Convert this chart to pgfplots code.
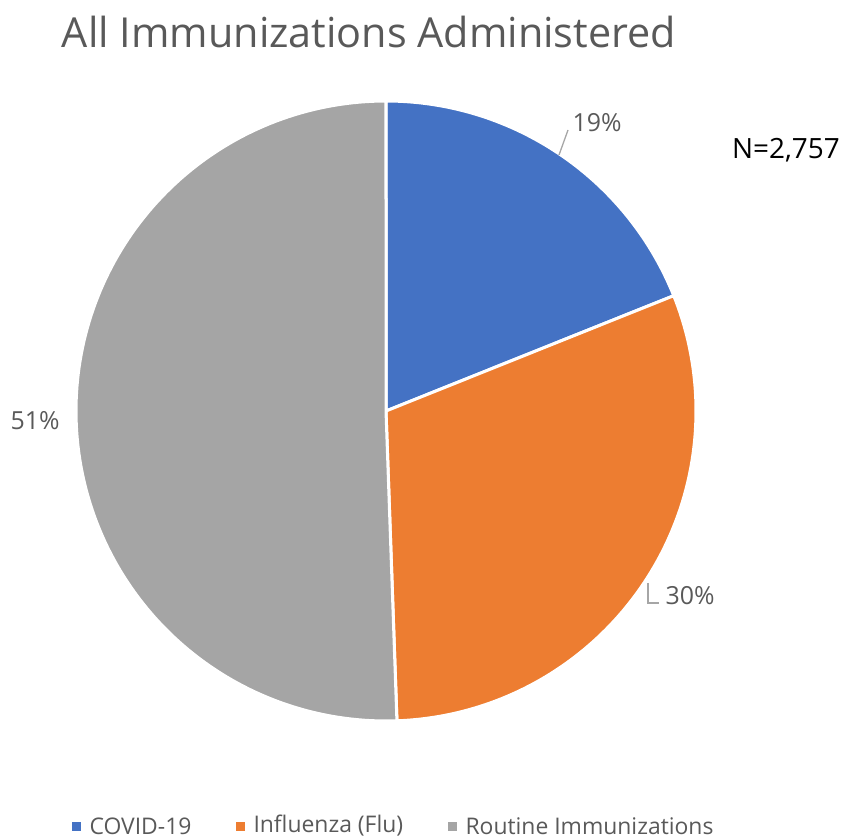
\documentclass[border=0pt]{standalone}
\usepackage{pgfplots}
\pgfplotsset{compat=1.18}
\usepackage{fontspec}
\setmainfont{Open Sans}
\definecolor{covid}{HTML}{4472C4}
\definecolor{flu}{HTML}{ED7D31}
\definecolor{routine}{HTML}{A5A5A5}
\definecolor{txt}{HTML}{595959}
\definecolor{lead}{HTML}{A6A6A6}
\begin{document}
\begin{tikzpicture}[x=1bp,y=1bp]
\begin{axis}[
  width=844bp, height=837bp, scale only axis,
  xmin=0, xmax=844, ymin=0, ymax=837,
  hide axis, clip=false,
]
\path (rel axis cs:0,0) rectangle (rel axis cs:1,1);
% COVID-19: 522, Influenza: 841, Routine: 1394 (N=2757), clockwise from 12 o'clock
\addplot[fill=covid, draw=white, line width=3bp, domain=90:21.84, samples=80]
  ({386+310*cos(x)},{426+310*sin(x)}) -- (axis cs:386,426) -- cycle;
\addplot[fill=flu, draw=white, line width=3bp, domain=21.84:-87.98, samples=100]
  ({386+310*cos(x)},{426+310*sin(x)}) -- (axis cs:386,426) -- cycle;
\addplot[fill=routine, draw=white, line width=3bp, domain=-87.98:-270, samples=150]
  ({386+310*cos(x)},{426+310*sin(x)}) -- (axis cs:386,426) -- cycle;
% leader lines
\draw[lead, line width=1.3bp] (axis cs:559,682) -- (axis cs:568,707);
\draw[lead, line width=1.3bp] (axis cs:648,254) -- (axis cs:648,234) -- (axis cs:659,234);
% labels
\node[txt, font=\fontsize{25}{28}\selectfont] at (axis cs:597,714) {19\%};
\node[txt, font=\fontsize{25}{28}\selectfont] at (axis cs:690,241) {30\%};
\node[txt, font=\fontsize{25}{28}\selectfont] at (axis cs:35,416) {51\%};
\node[black, font=\fontsize{28}{32}\selectfont] at (axis cs:786,687) {N=2,757};
\node[txt, font=\fontsize{41.5}{46}\selectfont] at (axis cs:369,805) {All Immunizations Administered};
% legend
\fill[covid] (axis cs:72,6) rectangle (axis cs:81,15);
\node[txt, anchor=west, font=\fontsize{23}{26}\selectfont] at (axis cs:86,11) {COVID-19};
\fill[flu] (axis cs:236,6) rectangle (axis cs:245,15);
\node[txt, anchor=west, font=\fontsize{23}{26}\selectfont] at (axis cs:250,11) {Influenza (Flu)};
\fill[routine] (axis cs:448,6) rectangle (axis cs:457,15);
\node[txt, anchor=west, font=\fontsize{23}{26}\selectfont] at (axis cs:462,11) {Routine Immunizations};
\end{axis}
\end{tikzpicture}
\end{document}
